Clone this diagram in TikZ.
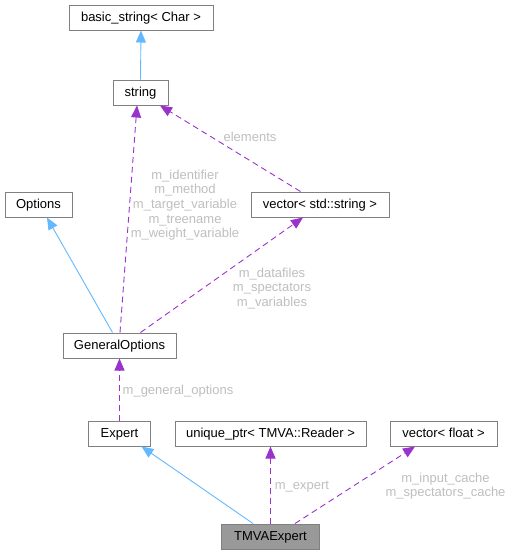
\documentclass[tikz,border=0pt]{standalone}
\usepackage{fontspec}
\setmainfont{Liberation Sans}
\usetikzlibrary{arrows.meta}
\definecolor{boxc}{HTML}{808080}
\definecolor{inhc}{HTML}{63B8FF}
\definecolor{usec}{HTML}{9A32CD}
\definecolor{labc}{HTML}{BEBEBE}
\definecolor{fillc}{HTML}{999999}
\begin{document}
\begin{tikzpicture}[x=1pt,y=-1pt,
 box/.style={draw=boxc, line width=1pt, minimum height=25pt, inner sep=0pt, text height=11.5pt, text depth=3pt, font=\fontsize{13}{15}\selectfont, text=black},
 inh/.style={draw=inhc, line width=0.9pt, -{Triangle[length=12pt,width=10pt,fill=inhc]}},
 use/.style={draw=usec, line width=0.9pt, dash pattern=on 6pt off 4pt, -{Triangle[length=12pt,width=10pt,fill=usec]}},
 lab/.style={text=labc, align=center, inner sep=0pt, font=\fontsize{13}{14.6}\selectfont}]
\useasboundingbox (0,0) rectangle (512,555);
\node[box, minimum width=144pt] (basic) at (141,17.5) {basic\_string< Char >};
\node[box, minimum width=55pt] (str) at (140.5,92.5) {string};
\node[box, minimum width=67pt] (opt) at (38.5,204.5) {Options};
\node[box, minimum width=138pt] (vstr) at (320,204.5) {vector< std::string >};
\node[box, minimum width=113pt] (gen) at (119.5,345.5) {GeneralOptions};
\node[box, minimum width=62pt] (exp) at (119.5,433.5) {Expert};
\node[box, minimum width=191pt] (uptr) at (270.5,433.5) {unique\_ptr< TMVA::Reader >};
\node[box, minimum width=107pt] (vflt) at (443.5,433.5) {vector< float >};
\node[box, minimum width=98pt, fill=fillc] (tmva) at (270.5,536.5) {TMVAExpert};

\draw[inh] (str.north) -- (basic.south);
\draw[inh] ([xshift=-7pt]gen.north) -- ([xshift=8.5pt]opt.south);
\draw[use] ([xshift=0.5pt]gen.north) -- ([xshift=-3.5pt]str.south);
\draw[use] ([xshift=21pt]gen.north) -- ([xshift=-17pt]vstr.south);
\draw[use] ([xshift=-19.5pt]vstr.north) -- ([xshift=19.5pt]str.south);
\draw[use] (exp.north) -- (gen.south);
\draw[inh] ([xshift=-17.5pt]tmva.north) -- ([xshift=22pt]exp.south);
\draw[use] (tmva.north) -- (uptr.south);
\draw[use] ([xshift=24.5pt]tmva.north) -- ([xshift=-28.5pt]vflt.south);

\node[lab] (l1) at (250,137) {elements};
\node[lab] (l2) at (185,205.2) {m\_identifier\\m\_method\\m\_target\_variable\\m\_treename\\m\_weight\_variable};
\node[lab] (l3) at (272,288.2) {m\_datafiles\\m\_spectators\\m\_variables};
\node[lab] (l4) at (178,391) {m\_general\_options};
\node[lab] (l5) at (302,486.3) {m\_expert};
\node[lab] (l6) at (445.5,486.2) {m\_input\_cache\\m\_spectators\_cache};
\end{tikzpicture}
\end{document}
